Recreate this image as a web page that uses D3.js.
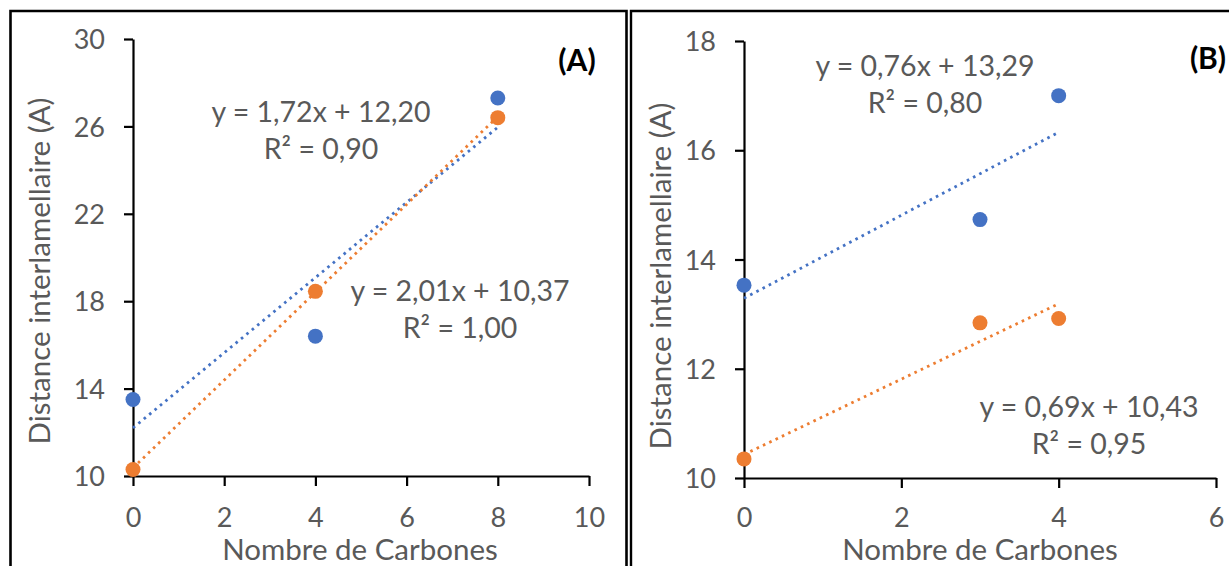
<!DOCTYPE html>
<html>
<head>
<meta charset="utf-8">
<script src="https://cdn.jsdelivr.net/npm/d3@7"></script>
<style>
  html, body { margin: 0; padding: 0; background: #fff; }
  svg { display: block; }
  text { font-family: Lato, "Open Sans", sans-serif; }
</style>
</head>
<body>
<svg id="chart" width="1229" height="566"></svg>
<script>
// ---- Data ----
const panelLabels = ["(A)", "(B)"];
const xTitle = "Nombre de Carbones";
const yTitle = "Distance interlamellaire (A)";

// Panel A
const xTicksA = [0, 2, 4, 6, 8, 10];
const yTicksA = [10, 14, 18, 22, 26, 30];
const carbonsA = [0, 4, 8];
const blueA = [13.5, 16.4, 27.3];
const orangeA = [10.3, 18.45, 26.4];
const trendBlueA = { slope: 1.72, intercept: 12.20 };
const trendOrangeA = { slope: 2.01, intercept: 10.37 };
const eqBlueA = ["y = 1,72x + 12,20", "R² = 0,90"];
const eqOrangeA = ["y = 2,01x + 10,37", "R² = 1,00"];

// Panel B
const xTicksB = [0, 2, 4, 6];
const yTicksB = [10, 12, 14, 16, 18];
const carbonsB = [0, 3, 4];
const blueB = [13.53, 14.73, 17.0];
const orangeB = [10.35, 12.84, 12.92];
const trendBlueB = { slope: 0.76, intercept: 13.29 };
const trendOrangeB = { slope: 0.69, intercept: 10.43 };
const eqBlueB = ["y = 0,76x + 13,29", "R² = 0,80"];
const eqOrangeB = ["y = 0,69x + 10,43", "R² = 0,95"];

// ---- Styling ----
const BLUE = "#4472C4", ORANGE = "#ED7D31", GREY = "#595959";
const FS_TICK = 27, FS_EQ = 28.5, FS_TITLE = 29.5;

const svg = d3.select("#chart");

// frames
svg.append("path").attr("d", "M10.5,600 V11 H626.5 V600")
  .attr("fill", "none").attr("stroke", "#000").attr("stroke-width", 2.6);
svg.append("path").attr("d", "M631,600 V11 H1260")
  .attr("fill", "none").attr("stroke", "#000").attr("stroke-width", 2.4);

const panels = [
  {
    label: panelLabels[0], labelPos: [577, 60],
    xDomain: [0, 10], xRange: [133, 589], xTicks: xTicksA,
    yDomain: [10, 30], yRange: [476, 39], yTicks: yTicksA, xPad: 22,
    xs: carbonsA, series: [
      { vals: blueA, color: BLUE, trend: trendBlueA, eq: eqBlueA, eqPos: [321, 112] },
      { vals: orangeA, color: ORANGE, trend: trendOrangeA, eq: eqOrangeA, eqPos: [460, 291] }
    ],
    yTitlePos: [39, 271], xTitlePos: [360, 549]
  },
  {
    label: panelLabels[1], labelPos: [1208, 58],
    xDomain: [0, 6], xRange: [744, 1216], xTicks: xTicksB,
    yDomain: [10, 18], yRange: [478, 41], yTicks: yTicksB, xPad: 20,
    xs: carbonsB, series: [
      { vals: blueB, color: BLUE, trend: trendBlueB, eq: eqBlueB, eqPos: [925, 66] },
      { vals: orangeB, color: ORANGE, trend: trendOrangeB, eq: eqOrangeB, eqPos: [1089, 407] }
    ],
    yTitlePos: [660, 276], xTitlePos: [980, 549]
  }
];

panels.forEach(p => {
  const x = d3.scaleLinear().domain(p.xDomain).range(p.xRange);
  const y = d3.scaleLinear().domain(p.yDomain).range(p.yRange);
  const g = svg.append("g");

  // axes
  const yAxis = d3.axisLeft(y).tickValues(p.yTicks).tickFormat(d3.format("d"))
    .tickSizeInner(9).tickSizeOuter(0).tickPadding(19);
  const xAxis = d3.axisBottom(x).tickValues(p.xTicks).tickFormat(d3.format("d"))
    .tickSizeInner(10).tickSizeOuter(0).tickPadding(p.xPad);

  const ya = g.append("g").attr("transform", `translate(${p.xRange[0]},0)`).call(yAxis);
  const xa = g.append("g").attr("transform", `translate(0,${p.yRange[0]})`).call(xAxis);
  [ya, xa].forEach(a => {
    a.select(".domain").attr("stroke", "#000").attr("stroke-width", 2.2);
    a.selectAll(".tick line").attr("stroke", "#000").attr("stroke-width", 2.2);
    a.selectAll(".tick text").attr("fill", GREY).style("font-size", FS_TICK + "px")
      .style("font-family", "Lato, sans-serif");
  });
  ya.selectAll(".tick text").attr("dy", "0.36em");

  // trendlines
  p.series.forEach(s => {
    const x0 = d3.min(p.xs), x1 = d3.max(p.xs);
    g.append("line")
      .attr("x1", x(x0)).attr("y1", y(s.trend.slope * x0 + s.trend.intercept))
      .attr("x2", x(x1)).attr("y2", y(s.trend.slope * x1 + s.trend.intercept))
      .attr("stroke", s.color).attr("stroke-width", 2.8)
      .attr("stroke-dasharray", "2.6 4.4");
  });

  // points
  p.series.forEach(s => {
    g.selectAll(null).data(p.xs.map((v, i) => [v, s.vals[i]])).enter()
      .append("circle")
      .attr("cx", d => x(d[0])).attr("cy", d => y(d[1]))
      .attr("r", 7.5).attr("fill", s.color);
  });

  // equations
  p.series.forEach(s => {
    s.eq.forEach((t, i) => {
      g.append("text").attr("x", s.eqPos[0]).attr("y", s.eqPos[1] + i * 37)
        .attr("text-anchor", "middle").attr("dy", "0.36em")
        .attr("fill", GREY).style("font-size", FS_EQ + "px").text(t);
    });
  });

  // titles
  g.append("text").attr("x", p.xTitlePos[0]).attr("y", p.xTitlePos[1])
    .attr("text-anchor", "middle").attr("dy", "0.36em")
    .attr("fill", GREY).style("font-size", FS_TITLE + "px").text(xTitle);
  g.append("text")
    .attr("transform", `translate(${p.yTitlePos[0]},${p.yTitlePos[1]}) rotate(-90)`)
    .attr("text-anchor", "middle").attr("dy", "0.36em")
    .attr("fill", GREY).style("font-size", FS_TITLE + "px").text(yTitle);

  // panel label
  g.append("text").attr("x", p.labelPos[0]).attr("y", p.labelPos[1])
    .attr("text-anchor", "middle").attr("dy", "0.36em")
    .attr("fill", "#000").style("font-size", "30px").style("font-weight", "bold")
    .text(p.label);
});
</script>
</body>
</html>
